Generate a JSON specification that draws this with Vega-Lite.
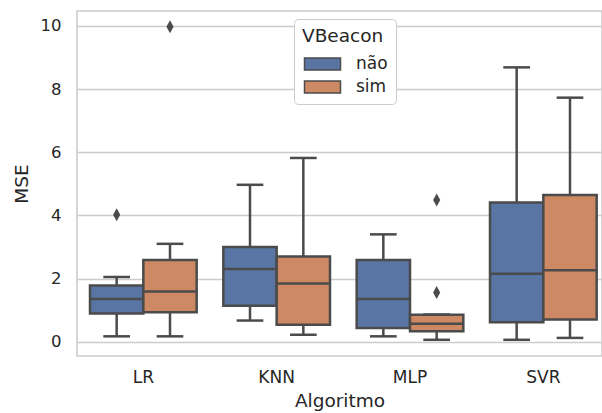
{
  "$schema": "https://vega.github.io/schema/vega-lite/v6.json",
  "autosize": "none",
  "width": 525,
  "height": 345,
  "padding": {"left": 77, "top": 11, "right": 0, "bottom": 57},
  "background": "white",
  "config": {
    "font": "DejaVu Sans",
    "view": {"stroke": "#cccccc", "strokeWidth": 1.6},
    "axis": {"labelColor": "#262626", "titleColor": "#262626", "titleFontWeight": "normal"}
  },
  "datasets": {
    "boxes": [
      {"Algoritmo": "LR", "VBeacon": "não", "lower": 0.17, "q1": 0.89, "median": 1.35, "q3": 1.78, "upper": 2.05},
      {"Algoritmo": "LR", "VBeacon": "sim", "lower": 0.17, "q1": 0.93, "median": 1.59, "q3": 2.59, "upper": 3.1},
      {"Algoritmo": "KNN", "VBeacon": "não", "lower": 0.67, "q1": 1.14, "median": 2.3, "q3": 3.0, "upper": 4.97},
      {"Algoritmo": "KNN", "VBeacon": "sim", "lower": 0.22, "q1": 0.54, "median": 1.84, "q3": 2.7, "upper": 5.82},
      {"Algoritmo": "MLP", "VBeacon": "não", "lower": 0.17, "q1": 0.43, "median": 1.35, "q3": 2.59, "upper": 3.4},
      {"Algoritmo": "MLP", "VBeacon": "sim", "lower": 0.06, "q1": 0.33, "median": 0.57, "q3": 0.85, "upper": 0.86},
      {"Algoritmo": "SVR", "VBeacon": "não", "lower": 0.06, "q1": 0.62, "median": 2.15, "q3": 4.41, "upper": 8.69},
      {"Algoritmo": "SVR", "VBeacon": "sim", "lower": 0.12, "q1": 0.7, "median": 2.26, "q3": 4.65, "upper": 7.73}
    ],
    "outliers": [
      {"Algoritmo": "LR", "VBeacon": "não", "MSE": 4.02},
      {"Algoritmo": "LR", "VBeacon": "sim", "MSE": 9.98},
      {"Algoritmo": "MLP", "VBeacon": "sim", "MSE": 4.49},
      {"Algoritmo": "MLP", "VBeacon": "sim", "MSE": 1.56}
    ]
  },
  "encoding": {
    "x": {
      "field": "Algoritmo", "type": "nominal", "sort": ["LR", "KNN", "MLP", "SVR"],
      "scale": {"domain": ["LR", "KNN", "MLP", "SVR"], "paddingInner": 0.2, "paddingOuter": 0.06875, "align": 0.709},
      "axis": {"labelAngle": 0, "labelFontSize": 17, "titleFontSize": 18.5, "ticks": false, "domain": false, "grid": false, "labelPadding": 13, "titlePadding": 6}
    },
    "xOffset": {"field": "VBeacon", "type": "nominal", "scale": {"domain": ["não", "sim"], "paddingInner": 0, "paddingOuter": 0}}
  },
  "layer": [
    {
      "data": {"name": "boxes"},
      "mark": {"type": "rule", "color": "#4b4b4b", "strokeWidth": 2.5},
      "encoding": {
        "y": {"field": "lower", "type": "quantitative", "title": "MSE",
          "scale": {"domain": [-0.453, 10.475], "nice": false, "zero": false},
          "axis": {"values": [0, 2, 4, 6, 8, 10], "labelFontSize": 16.5, "titleFontSize": 18.5, "ticks": false, "domain": false, "grid": true, "gridColor": "#cccccc", "gridWidth": 1.4, "labelPadding": 16, "titlePadding": 9}},
        "y2": {"field": "upper"}
      }
    },
    {
      "data": {"name": "boxes"},
      "mark": {"type": "bar", "stroke": "#4b4b4b", "strokeWidth": 2.5, "opacity": 1},
      "encoding": {
        "y": {"field": "q1", "type": "quantitative"},
        "y2": {"field": "q3"},
        "fill": {"field": "VBeacon", "type": "nominal",
          "scale": {"domain": ["não", "sim"], "range": ["#5875A3", "#CC8963"]},
          "legend": {
            "orient": "none", "legendX": 217, "legendY": 8,
            "title": "VBeacon", "titleFontSize": 18.5, "titleFontWeight": "normal", "titleColor": "#262626",
            "labelFontSize": 17, "labelColor": "#262626",
            "padding": 8, "strokeColor": "#cccccc", "fillColor": "white", "cornerRadius": 4,
            "symbolType": "M-1,-1L5,-1L5,1L-1,1Z", "symbolSize": 144, "symbolStrokeColor": "#4b4b4b", "symbolStrokeWidth": 1.5, "symbolOpacity": 1,
            "labelOffset": 37, "rowPadding": 4, "titlePadding": 10
          }}
      }
    },
    {
      "data": {"name": "boxes"},
      "mark": {"type": "tick", "color": "#4b4b4b", "thickness": 2.5, "size": 53, "opacity": 1},
      "encoding": {"y": {"field": "median", "type": "quantitative"}}
    },
    {
      "data": {"name": "boxes"},
      "mark": {"type": "tick", "color": "#4b4b4b", "thickness": 2.5, "size": 26.7, "opacity": 1},
      "encoding": {"y": {"field": "lower", "type": "quantitative"}}
    },
    {
      "data": {"name": "boxes"},
      "mark": {"type": "tick", "color": "#4b4b4b", "thickness": 2.5, "size": 26.7, "opacity": 1},
      "encoding": {"y": {"field": "upper", "type": "quantitative"}}
    },
    {
      "data": {"name": "outliers"},
      "mark": {"type": "point", "filled": true, "color": "#4b4b4b", "opacity": 1, "shape": "M0,-1L0.55,0L0,1L-0.55,0Z", "size": 169},
      "encoding": {"y": {"field": "MSE", "type": "quantitative"}}
    }
  ]
}
